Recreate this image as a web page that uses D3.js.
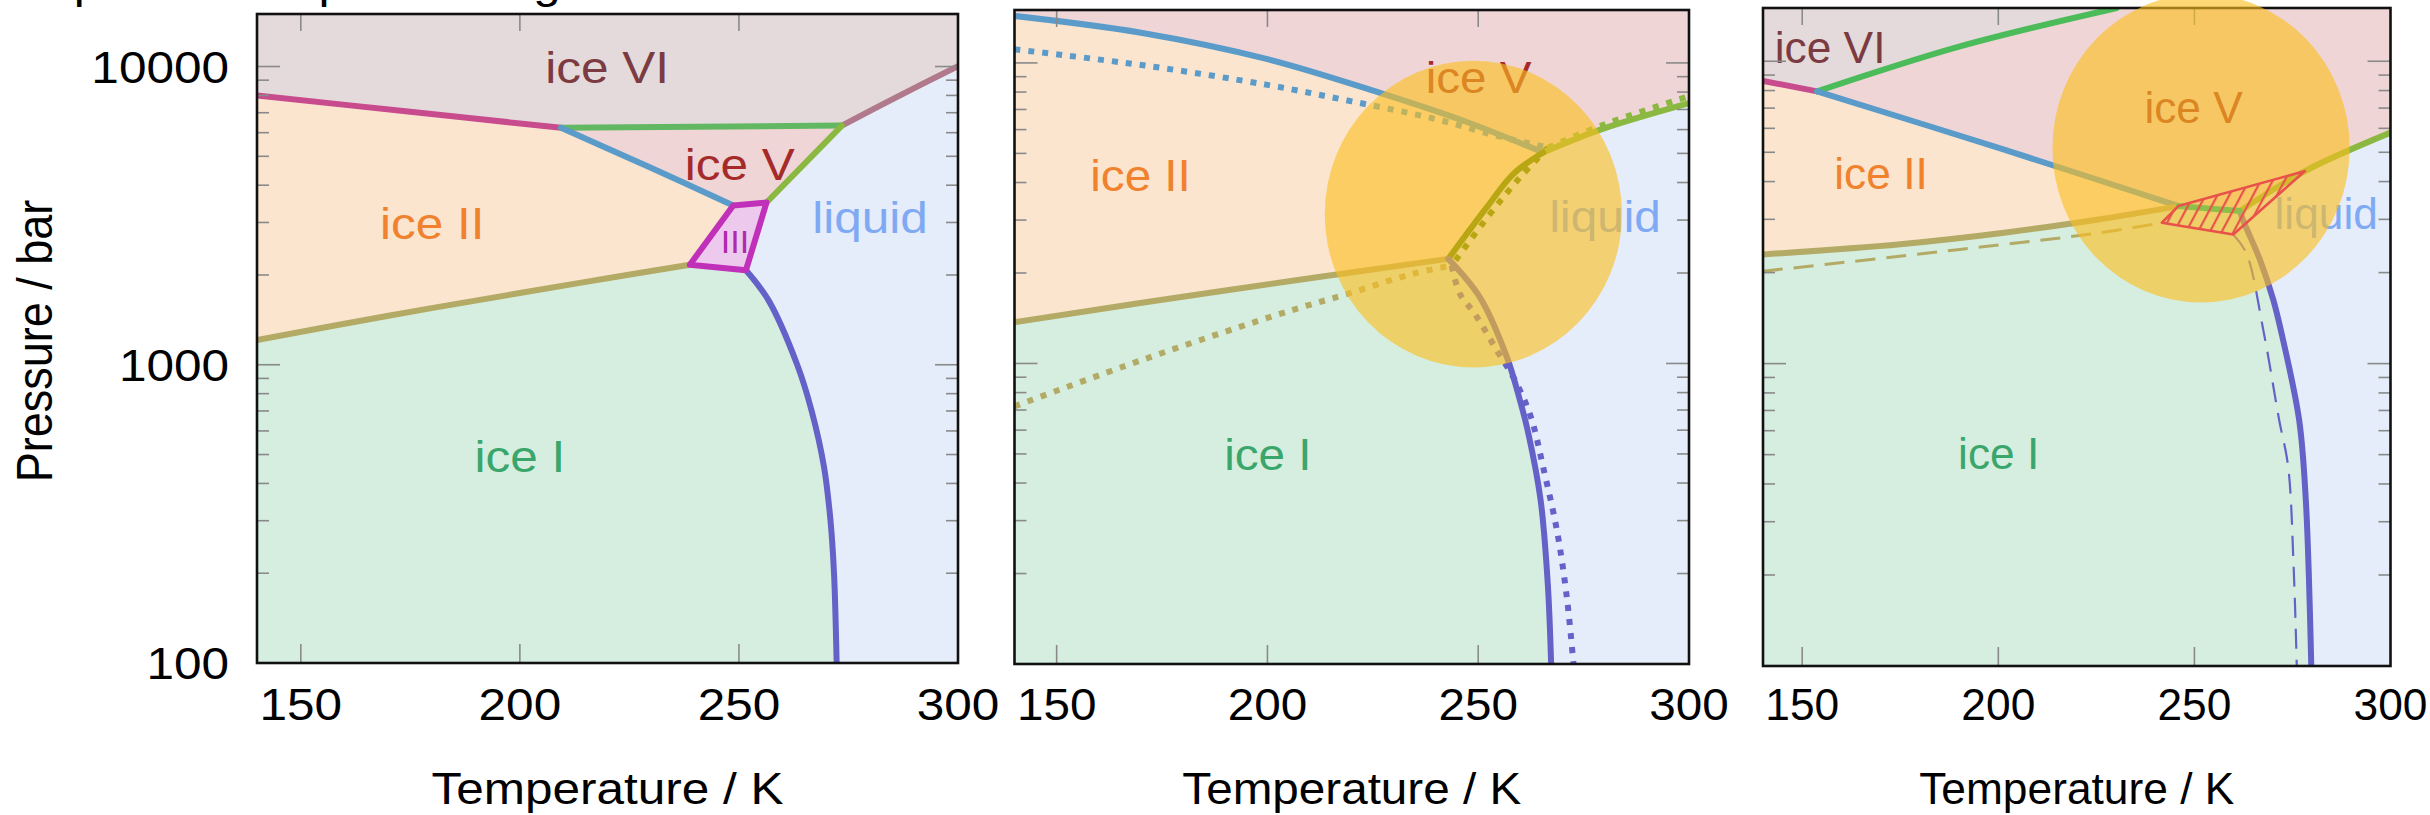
<!DOCTYPE html>
<html><head><meta charset="utf-8">
<script src="https://cdn.jsdelivr.net/npm/d3@7"></script>
<style>
html,body{margin:0;padding:0;background:#fff;}
svg{display:block;}
text{font-family:"Liberation Sans", Arial, Helvetica, sans-serif;}
</style></head><body>
<svg id="chart" width="2430" height="815"></svg>
<script>
// ---- axes ----
const tempDomain = [140, 300];
const pressureDomain = [100, 15000];
const tempTicks = [150, 200, 250, 300];
const pressureMajor = [100, 1000, 10000];
const pressureMinor = [200, 300, 400, 500, 600, 700, 800, 900, 2000, 3000, 4000, 5000, 6000, 7000, 8000, 9000];
const pressureLabels = ["100", "1000", "10000"];
const heading = "Experimental phase diagram";

// ---- phase boundaries [T (K), P (bar)] ----
// left diagram
const a_II_VI = [[140, 8000], [175, 7050], [209.4, 6230]];
const a_V_VI = [[209.4, 6230], [273.5, 6340]];
const a_VI_L = [[273.5, 6340], [286, 7900], [300, 10030]];
const a_II_V = [[209.4, 6230], [229, 4640], [248.7, 3420]];
const a_V_L = [[273.5, 6340], [256.3, 3500]];
const a_I_II = [[140, 1210], [170, 1460], [200, 1740], [220, 1950], [238.8, 2165]];
const a_I_L = [[251.6, 2075], [256.7, 1650], [263.3, 1000], [266.6, 700], [269.4, 456], [270.9, 300], [271.7, 200], [272.3, 100]];
const a_III = [[248.7, 3420], [256.3, 3500], [251.6, 2075], [238.8, 2165]];

// middle diagram (solid = model, dotted = reference)
const b_II_V = [[140, 14330], [170, 12600], [200, 10290], [226.7, 7950], [246.5, 6420], [265.4, 5035]];
const b_II_V_ref = [[140, 11100], [171, 9800], [200, 8450], [220, 7450], [240, 6500], [254.4, 5720], [266.6, 5231]];
const b_V_L = [[265.4, 5035], [279, 6000], [300, 7350]];
const b_V_L_ref = [[266.6, 5231], [280, 6250], [300, 7750]];
const b_II_L = [[265.4, 5035], [258.3, 4268], [252.0, 3305], [242.9, 2228]];
const b_II_L_ref = [[266.6, 5231], [259.9, 4159], [252.8, 3143], [243.7, 2116]];
const b_I_II = [[140, 1372], [190, 1750], [242.9, 2228]];
const b_I_II_ref = [[140, 720], [171, 1036], [205.5, 1500], [218.8, 1700], [234.6, 1990], [243.7, 2116]];
const b_I_L = [[242.9, 2228], [250.4, 1660], [256.8, 1050], [259.9, 754], [261.9, 584], [264.8, 351], [266.5, 185], [267.3, 100]];
const b_I_L_ref = [[243.7, 2116], [245.7, 1700], [249.2, 1463], [254.5, 1100], [258.7, 880], [262.5, 663], [265.4, 452], [268.8, 272], [271.1, 163], [272.6, 100]];

// right diagram (solid = model, dashed = reference)
const c_II_VI = [[140, 8610], [153.8, 7950]];
const c_V_VI = [[153.8, 7950], [190.2, 11200], [230.2, 15000]];
const c_II_V = [[153.8, 7950], [201.5, 5100], [246, 3318]];
const c_I_II = [[140, 2296], [175, 2483], [201.5, 2710], [225.9, 3003], [246, 3318]];
const c_V_I = [[246, 3318], [261.6, 3195]];
const c_V_L = [[261.6, 3195], [278.2, 4334], [300, 5806]];
const c_I_L = [[261.6, 3195], [262.5, 2958], [266.7, 2208], [270.1, 1629], [272.2, 1264], [276.7, 652], [278.4, 355], [279.8, 100]];
const c_III = [[245.9, 3318], [278.2, 4334], [259.9, 2675], [241.7, 2924]];
const c_I_II_ref = [[140, 2021], [190.2, 2385], [225.9, 2708], [241.7, 2924]];
const c_I_L_ref = [[259.9, 2675], [263.2, 2325], [267.7, 1264], [271.6, 652], [273.9, 457], [275.3, 213], [276.1, 100]];

// region labels [text, T, P]
const a_labels = [["ice VI", 219.9, 8835], ["ice V", 250.2, 4176], ["ice II", 180, 2647], ["liquid", 279.9, 2773], ["ice I", 200, 438]];
const b_labels = [["ice V", 250.1, 7966], ["ice II", 169.9, 3736], ["liquid", 280.1, 2731], ["ice I", 200.1, 441]];
const c_labels = [["ice VI", 157.1, 9849], ["ice V", 249.8, 6266], ["ice II", 170.1, 3789], ["liquid", 283.6, 2793], ["ice I", 200.1, 449]];
const a_III_label = ["III", 249.1, 2376];

// highlighted area [Tmin, Tmax, Pmin, Pmax]
const b_focus = [213.6, 284.1, 970, 10160];
const c_focus = [213.8, 289.6, 1592, 16700];

// ---- styling ----
const fills = { VI: "#e5dadb", V: "#efd5d6", II: "#fbe5cf", I: "#d5eee0", L: "#e5edfa", III: "#edc9ee" };
const labelColors = { "ice VI": "#7b3b40", "ice V": "#a52b2b", "ice II": "#f0822e", "liquid": "#80a9f4", "ice I": "#3ba66b" };
const lineCol = {
  II_VI: "#c84b8e", V_VI: "#62b862", VI_L: "#b07a8c", II_V: "#5a9bc9", V_L: "#8ab840",
  I_II: "#b3aa66", I_L: "#6462c8", III: "#c030b8", II_L: "#4a8000", V_VI3: "#4cbb5a"
};
const FONT = 45;

const svg = d3.select("#chart");
const defs = svg.append("defs");

const hatch = defs.append("pattern").attr("id", "hatch")
  .attr("patternUnits", "userSpaceOnUse").attr("width", 10.5).attr("height", 10.5)
  .attr("patternTransform", "rotate(28)");
hatch.append("line").attr("x1", 2).attr("y1", -2).attr("x2", 2).attr("y2", 13)
  .attr("stroke", "#e8524a").attr("stroke-width", 2.2);

// each panel keeps its own horizontal text stretch (proportional to its width)
const panels = [
  { x0: 257, x1: 958, y0: 14, y1: 663, yLabels: true },
  { x0: 1014.5, x1: 1689, y0: 10, y1: 664, yLabels: false },
  { x0: 1763, x1: 2390.5, y0: 8, y1: 666, yLabels: false }
];
panels.forEach(p => { p.sx = 1.1 * (p.x1 - p.x0) / 701; });

function stretchedText(g, str, x, y, sx, opts) {
  const t = g.append("text")
    .attr("transform", `translate(${x},${y}) scale(${sx},1)` + (opts.rotate ? ` rotate(${opts.rotate})` : ""))
    .attr("font-size", opts.size || FONT)
    .attr("text-anchor", opts.anchor || "middle")
    .attr("fill", opts.fill || "#000")
    .text(str);
  if (opts.dy) t.attr("dy", opts.dy);
  return t;
}

// heading line running off the top edge
stretchedText(svg, heading, 16, -2.5, 1.1, { anchor: "start" });

function setupPanel(p, i) {
  const x = d3.scaleLinear().domain(tempDomain).range([p.x0, p.x1]);
  const y = d3.scaleLog().domain(pressureDomain).range([p.y1, p.y0]);
  const g = svg.append("g");
  defs.append("clipPath").attr("id", "clip" + i).append("rect")
    .attr("x", p.x0).attr("y", p.y0).attr("width", p.x1 - p.x0).attr("height", p.y1 - p.y0);
  const plot = g.append("g").attr("clip-path", `url(#clip${i})`);
  const line = d3.line().x(d => x(d[0])).y(d => y(d[1])).curve(d3.curveCatmullRom.alpha(0.5));
  const poly = d3.line().x(d => x(d[0])).y(d => y(d[1]));
  const rev = a => a.slice().reverse();
  function region(parts, fill) {
    let d = "";
    parts.forEach((pt, k) => {
      let s = pt.length === 1 ? `M${x(pt[0][0])},${y(pt[0][1])}` : line(pt);
      if (k > 0) s = "L" + s.slice(1);
      d += s;
    });
    plot.append("path").attr("d", d + "Z").attr("fill", fill).attr("stroke", "none");
  }
  function boundary(pts, color, style, target) {
    const el = (target || plot).append("path").attr("d", line(pts)).attr("fill", "none")
      .attr("stroke", color).attr("stroke-linejoin", "round");
    if (style === "dot") el.attr("stroke-width", 6).attr("stroke-dasharray", "6,8");
    else if (style === "dash") el.attr("stroke-width", 3).attr("stroke-dasharray", "20,11");
    else if (style === "thindash") el.attr("stroke-width", 2.2).attr("stroke-dasharray", "20,11");
    else el.attr("stroke-width", 6).attr("stroke-linecap", "round");
    return el;
  }
  plot.append("rect").attr("x", p.x0).attr("y", p.y0).attr("width", p.x1 - p.x0)
    .attr("height", p.y1 - p.y0).attr("fill", fills.L);
  return { x, y, g, plot, line, poly, rev, region, boundary, sx: p.sx };
}

function drawFrame(P, p) {
  const { x, y, g } = P;
  const ticks = g.append("g").attr("stroke", "#8a8a8a").attr("stroke-width", 1.6);
  tempTicks.filter(t => t < tempDomain[1]).forEach(t => {
    ticks.append("line").attr("x1", x(t)).attr("x2", x(t)).attr("y1", p.y1).attr("y2", p.y1 - 19);
    ticks.append("line").attr("x1", x(t)).attr("x2", x(t)).attr("y1", p.y0).attr("y2", p.y0 + 17);
  });
  pressureMajor.concat(pressureMinor).forEach(v => {
    if (v <= pressureDomain[0]) return;
    const len = pressureMajor.includes(v) ? 23 : 12;
    ticks.append("line").attr("x1", p.x0).attr("x2", p.x0 + len).attr("y1", y(v)).attr("y2", y(v));
    ticks.append("line").attr("x1", p.x1).attr("x2", p.x1 - len).attr("y1", y(v)).attr("y2", y(v));
  });
  g.append("rect").attr("x", p.x0).attr("y", p.y0).attr("width", p.x1 - p.x0)
    .attr("height", p.y1 - p.y0).attr("fill", "none").attr("stroke", "#111").attr("stroke-width", 2.6);
}

function drawAxisText(P, p) {
  const { x, y, g, sx } = P;
  tempTicks.forEach(t => stretchedText(g, String(t), x(t), 720, sx, {}));
  stretchedText(g, "Temperature / K", (p.x0 + p.x1) / 2, 804, sx, {});
  if (p.yLabels) {
    pressureMajor.forEach((v, k) => stretchedText(g, pressureLabels[k], 229, y(v), sx, { anchor: "end", dy: "0.36em" }));
    stretchedText(g, "Pressure / bar", 52, 341, sx, { rotate: -90 });
  }
}

function labels(P, list) {
  list.forEach(([s, t, pr]) => stretchedText(P.g, s, P.x(t), P.y(pr), P.sx, { fill: labelColors[s] }));
}

function focus(P, f) {
  const cx = (P.x(f[0]) + P.x(f[1])) / 2, cy = (P.y(f[2]) + P.y(f[3])) / 2;
  P.g.append("ellipse").attr("cx", cx).attr("cy", cy)
    .attr("rx", Math.abs(P.x(f[1]) - P.x(f[0])) / 2).attr("ry", Math.abs(P.y(f[2]) - P.y(f[3])) / 2)
    .attr("fill", "#fcbf1e").attr("fill-opacity", 0.62);
}

// ---------- left ----------
{
  const p = panels[0], P = setupPanel(p, 0), R = P.rev;
  const top = pressureDomain[1], bot = pressureDomain[0];
  P.region([[[140, top]], [[300, top]], R(a_VI_L), R(a_V_VI), R(a_II_VI)], fills.VI);
  P.region([a_II_VI, a_II_V, [[238.8, 2165]], R(a_I_II)], fills.II);
  P.region([a_V_VI, a_V_L, [[248.7, 3420]], R(a_II_V)], fills.V);
  P.region([a_I_II, [[251.6, 2075]], a_I_L, [[140, bot]]], fills.I);
  P.plot.append("path").attr("d", P.poly(a_III) + "Z").attr("fill", fills.III).attr("stroke", "none");
  P.boundary(a_II_VI, lineCol.II_VI);
  P.boundary(a_V_VI, lineCol.V_VI);
  P.boundary(a_VI_L, lineCol.VI_L);
  P.boundary(a_II_V, lineCol.II_V);
  P.boundary(a_V_L, lineCol.V_L);
  P.boundary(a_I_II, lineCol.I_II);
  P.boundary(a_I_L, lineCol.I_L);
  P.plot.append("path").attr("d", P.poly(a_III) + "Z")
    .attr("fill", "none").attr("stroke", lineCol.III).attr("stroke-width", 6).attr("stroke-linejoin", "round");
  labels(P, a_labels);
  stretchedText(P.g, a_III_label[0], P.x(a_III_label[1]), P.y(a_III_label[2]), P.sx, { fill: "#b02ab0", size: 31 });
  drawFrame(P, p);
  drawAxisText(P, p);
}

// ---------- middle ----------
{
  const p = panels[1], P = setupPanel(p, 1), R = P.rev;
  const top = pressureDomain[1], bot = pressureDomain[0];
  P.region([[[140, top]], [[300, top]], R(b_V_L), R(b_II_V)], fills.V);
  P.region([b_II_V, b_II_L, R(b_I_II)], fills.II);
  P.region([b_I_II, b_I_L, [[140, bot]]], fills.I);
  P.boundary(b_II_V_ref, lineCol.II_V, "dot");
  P.boundary(b_V_L_ref, lineCol.V_L, "dot");
  P.boundary(b_II_L_ref, lineCol.II_L, "dot");
  P.boundary(b_I_II_ref, lineCol.I_II, "dot");
  P.boundary(b_I_L_ref, lineCol.I_L, "dot");
  P.boundary(b_II_V, lineCol.II_V);
  P.boundary(b_V_L, lineCol.V_L);
  P.boundary(b_II_L, lineCol.II_L);
  P.boundary(b_I_II, lineCol.I_II);
  P.boundary(b_I_L, lineCol.I_L);
  labels(P, b_labels);
  drawFrame(P, p);
  focus(P, b_focus);
  drawAxisText(P, p);
}

// ---------- right ----------
{
  const p = panels[2], P = setupPanel(p, 2), R = P.rev;
  const top = pressureDomain[1], bot = pressureDomain[0];
  P.region([[[140, top]], [[230.2, top]], R(c_V_VI), R(c_II_VI)], fills.VI);
  P.region([[[230.2, top]], [[300, top]], R(c_V_L), R(c_V_I), R(c_II_V), c_V_VI], fills.V);
  P.region([c_II_VI, c_II_V, R(c_I_II)], fills.II);
  P.region([c_I_II, c_V_I, c_I_L, [[140, bot]]], fills.I);
  P.boundary(c_I_II_ref, lineCol.I_II, "dash");
  P.boundary(c_I_L_ref, lineCol.I_L, "thindash");
  P.boundary(c_II_VI, lineCol.II_VI);
  P.boundary(c_V_VI, lineCol.V_VI3);
  P.boundary(c_II_V, lineCol.II_V);
  P.boundary(c_I_II, lineCol.I_II);
  P.boundary(c_V_L, lineCol.V_L);
  P.boundary(c_I_L, lineCol.I_L);
  labels(P, c_labels);
  drawFrame(P, p);
  focus(P, c_focus);
  const top2 = P.g.append("g");
  P.boundary(c_V_I, "#8cc04a", null, top2);
  top2.append("path").attr("d", P.poly(c_III) + "Z")
    .attr("fill", "url(#hatch)").attr("stroke", "#e8524a").attr("stroke-width", 2.6).attr("stroke-linejoin", "round");
  drawAxisText(P, p);
}
</script></body></html>
